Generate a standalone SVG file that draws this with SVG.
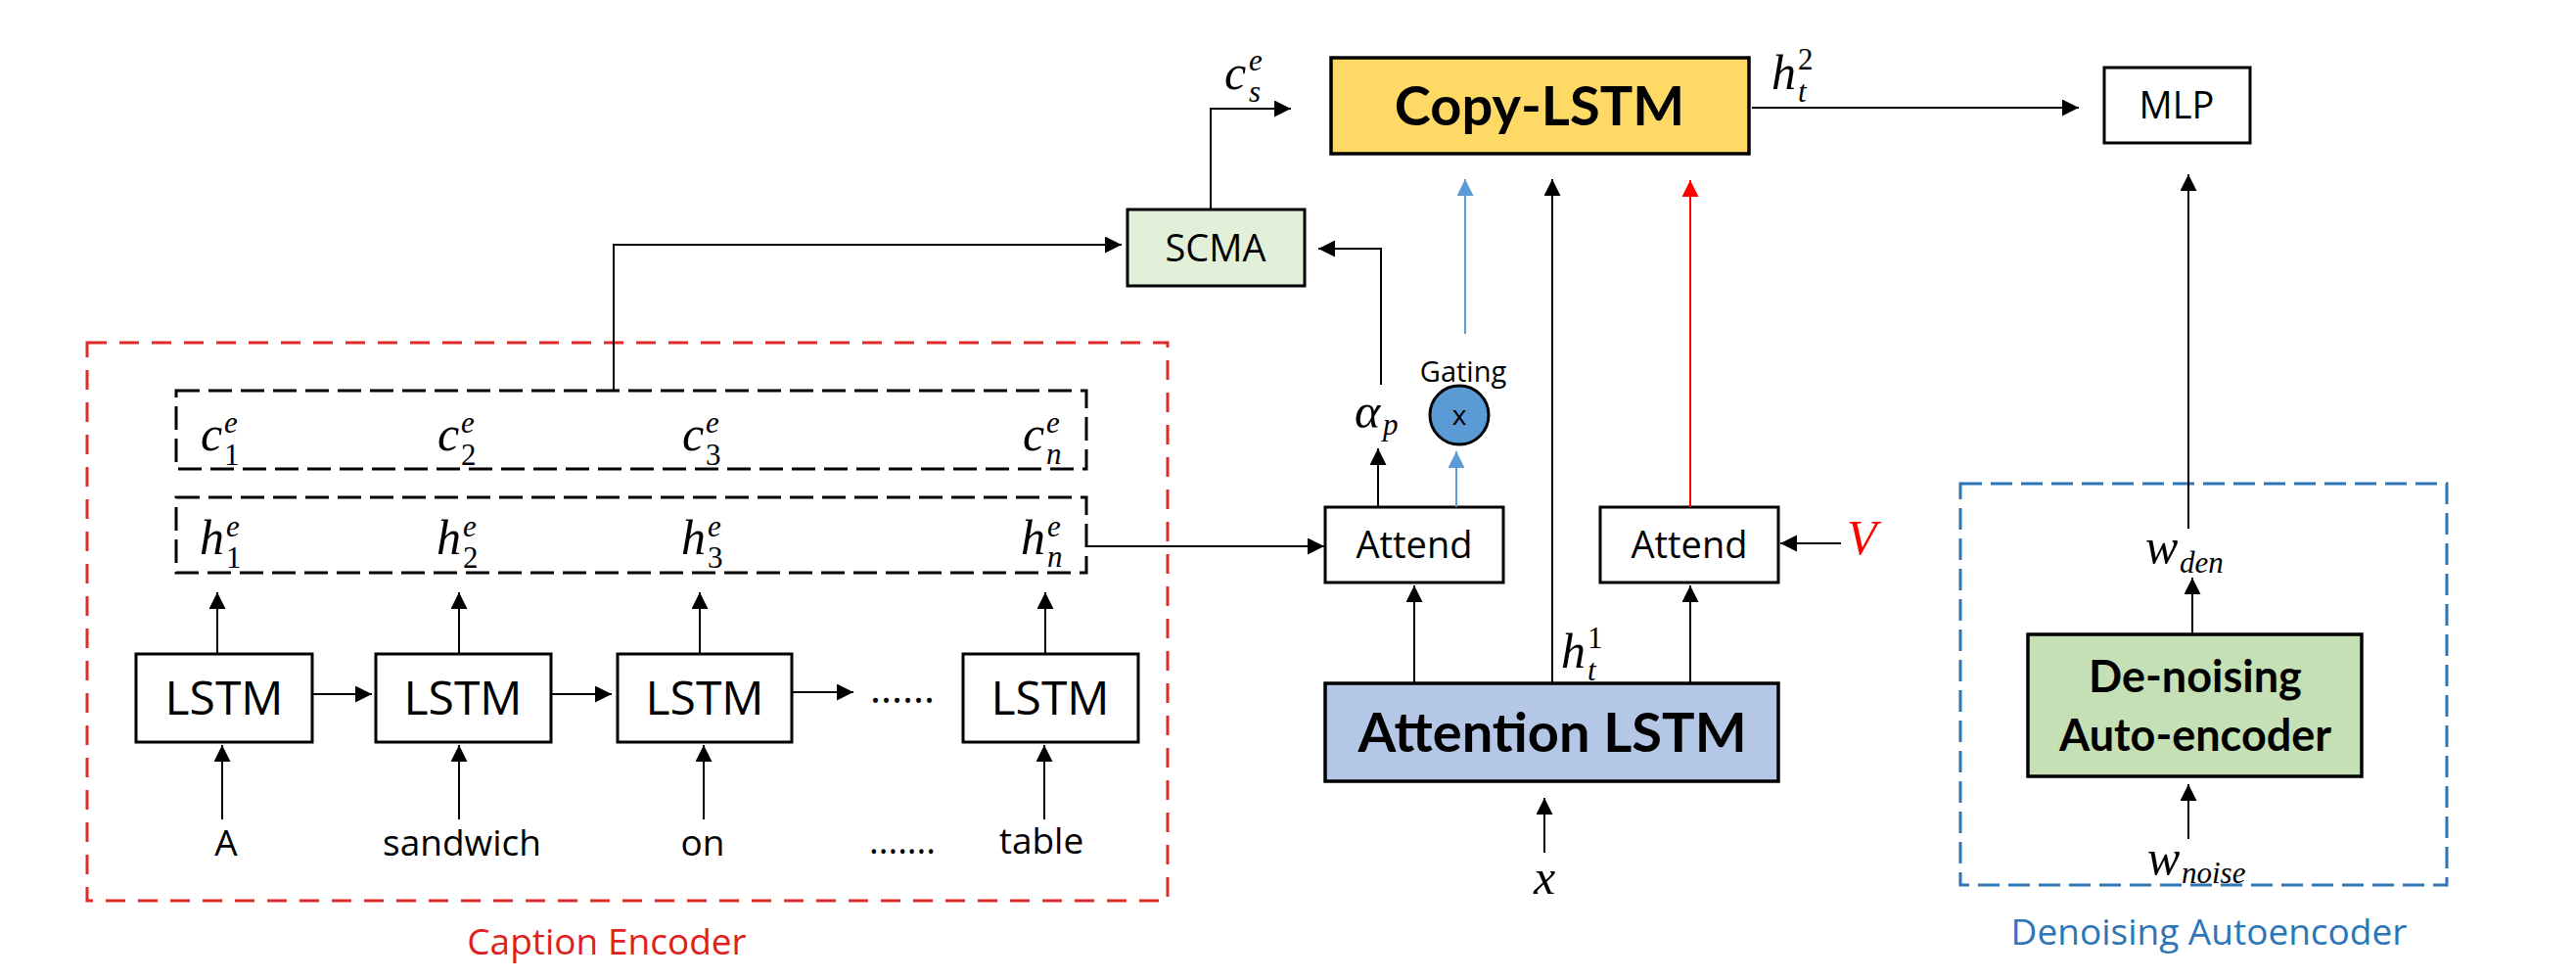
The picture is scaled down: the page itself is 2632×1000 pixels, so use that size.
<svg xmlns="http://www.w3.org/2000/svg" width="2632" height="1000" viewBox="0 0 2632 1000">
<style>
.bg{fill:#fff}
.box{fill:#fff;stroke:#000;stroke-width:3}
.t{font-family:"Open Sans",sans-serif;fill:#000}
.b{font-family:Lato,"Open Sans",sans-serif;font-weight:bold;fill:#000}
.m{font-family:"Liberation Serif",serif;font-style:italic;font-size:50px;fill:#000}
.s{font-size:31px}
.u{font-style:normal}
.ln{stroke:#000;stroke-width:2;fill:none}
.lnb{stroke:#5B9BD5;stroke-width:2;fill:none}
.lnr{stroke:#FF0000;stroke-width:2;fill:none}
.dk{fill:none;stroke:#000;stroke-width:3;stroke-dasharray:24 9}
</style>
<defs>
<marker id="ak" markerUnits="userSpaceOnUse" markerWidth="18" markerHeight="18" refX="17" refY="8.5" orient="auto"><path d="M0,0 L17,8.5 L0,17 Z" fill="#000"/></marker>
<marker id="ab" markerUnits="userSpaceOnUse" markerWidth="18" markerHeight="18" refX="17" refY="8.5" orient="auto"><path d="M0,0 L17,8.5 L0,17 Z" fill="#5B9BD5"/></marker>
<marker id="ar" markerUnits="userSpaceOnUse" markerWidth="18" markerHeight="18" refX="17" refY="8.5" orient="auto"><path d="M0,0 L17,8.5 L0,17 Z" fill="#FF0000"/></marker>
</defs>
<rect class="bg" x="0" y="0" width="2632" height="1000"/>

<g id="caption-encoder">
<rect x="89" y="350" width="1104" height="570" fill="none" stroke="#E02A2A" stroke-width="3" stroke-dasharray="20 13"/>
<text class="t" x="620" y="975" font-size="37" text-anchor="middle" style="fill:#E02020">Caption Encoder</text>
</g>

<g id="c-row">
<rect class="dk" x="180" y="399" width="930" height="80"/>
<text class="m" x="205" y="460">c<tspan class="s" x="229" y="442">e</tspan><tspan class="s u" x="229" y="475">1</tspan></text>
<text class="m" x="447" y="460">c<tspan class="s" x="471" y="442">e</tspan><tspan class="s u" x="471" y="475">2</tspan></text>
<text class="m" x="697" y="460">c<tspan class="s" x="721" y="442">e</tspan><tspan class="s u" x="721" y="475">3</tspan></text>
<text class="m" x="1045" y="460">c<tspan class="s" x="1069" y="442">e</tspan><tspan class="s" x="1069" y="474">n</tspan></text>
</g>

<g id="h-row">
<rect class="dk" x="180" y="508" width="930" height="77"/>
<text class="m" x="204" y="566">h<tspan class="s" x="231" y="548">e</tspan><tspan class="s u" x="231" y="580">1</tspan></text>
<text class="m" x="446" y="566">h<tspan class="s" x="473" y="548">e</tspan><tspan class="s u" x="473" y="580">2</tspan></text>
<text class="m" x="696" y="566">h<tspan class="s" x="723" y="548">e</tspan><tspan class="s u" x="723" y="580">3</tspan></text>
<text class="m" x="1043" y="566">h<tspan class="s" x="1070" y="548">e</tspan><tspan class="s" x="1070" y="579">n</tspan></text>
</g>

<g id="lstm1"><rect class="box" x="139" y="668" width="180" height="90"/><text class="t" x="229" y="730" font-size="48" text-anchor="middle">LSTM</text></g>
<g id="lstm2"><rect class="box" x="384" y="668" width="179" height="90"/><text class="t" x="473" y="730" font-size="48" text-anchor="middle">LSTM</text></g>
<g id="lstm3"><rect class="box" x="631" y="668" width="178" height="90"/><text class="t" x="720" y="730" font-size="48" text-anchor="middle">LSTM</text></g>
<g id="lstm-dots"><text class="t" x="922" y="718" font-size="42" text-anchor="middle">......</text></g>
<g id="lstm4"><rect class="box" x="984" y="668" width="179" height="90"/><text class="t" x="1073" y="730" font-size="48" text-anchor="middle">LSTM</text></g>

<g id="words">
<text class="t" x="231" y="874" font-size="37" text-anchor="middle">A</text>
<text class="t" x="472" y="874" font-size="37" text-anchor="middle">sandwich</text>
<text class="t" x="718" y="874" font-size="37" text-anchor="middle">on</text>
<text class="t" x="922" y="872" font-size="37" text-anchor="middle">.......</text>
<text class="t" x="1064" y="872" font-size="37" text-anchor="middle">table</text>
</g>

<g id="scma"><rect class="box" x="1152" y="214" width="181" height="78" style="fill:#E2F0D9"/><text class="t" x="1242" y="267" font-size="38" text-anchor="middle">SCMA</text></g>

<g id="copy-lstm"><rect x="1360" y="59" width="427" height="98" fill="#FFD966" stroke="#000" stroke-width="3.5"/><text class="b" x="1573" y="128" font-size="56" text-anchor="middle">Copy-LSTM</text></g>

<g id="mlp"><rect class="box" x="2150" y="69" width="149" height="77"/><text class="t" x="2224" y="121" font-size="38" text-anchor="middle">MLP</text></g>

<g id="attend1"><rect class="box" x="1354" y="518" width="182" height="77"/><text class="t" x="1445" y="570" font-size="38" text-anchor="middle">Attend</text></g>
<g id="attend2"><rect class="box" x="1635" y="518" width="182" height="77"/><text class="t" x="1726" y="570" font-size="38" text-anchor="middle">Attend</text></g>

<g id="attention-lstm"><rect x="1354" y="698" width="463" height="100" fill="#B4C7E7" stroke="#000" stroke-width="3.5"/><text class="b" x="1586" y="768" font-size="56" text-anchor="middle">Attention LSTM</text></g>

<g id="gating">
<text class="t" x="1495" y="390" font-size="29" text-anchor="middle">Gating</text>
<circle cx="1491" cy="424" r="30" fill="#5B9BD5" stroke="#000" stroke-width="3"/>
<text class="t" x="1491" y="434" font-size="28" text-anchor="middle">x</text>
</g>

<g id="denoising-autoencoder">
<rect x="2003" y="494" width="497" height="410" fill="none" stroke="#2E75B6" stroke-width="3" stroke-dasharray="22 9"/>
<rect x="2072" y="648" width="341" height="145" fill="#C5E0B4" stroke="#000" stroke-width="3.5"/>
<text class="b" x="2243" y="707" font-size="45" text-anchor="middle">De-noising</text>
<text class="b" x="2243" y="767" font-size="45" text-anchor="middle">Auto-encoder</text>
<text class="t" x="2257" y="965" font-size="37" text-anchor="middle" style="fill:#2E75B6">Denoising Autoencoder</text>
</g>

<g id="labels">
<text class="m" x="1251" y="91">c<tspan class="s" x="1276" y="72">e</tspan><tspan class="s" x="1276" y="104">s</tspan></text>
<text class="m" x="1810" y="91">h<tspan class="s u" x="1837" y="71">2</tspan><tspan class="s" x="1837" y="104">t</tspan></text>
<text class="m" x="1595" y="682">h<tspan class="s u" x="1622" y="662">1</tspan><tspan class="s" x="1622" y="695">t</tspan></text>
<text class="m" x="1384" y="437">α<tspan class="s" x="1413" y="444">p</tspan></text>
<text class="m" x="1887" y="566" style="fill:#FF0000">V</text>
<text class="m" x="1578" y="913" text-anchor="middle">x</text>
<text class="m" x="2192" y="575">w<tspan class="s" x="2227" y="585">den</tspan></text>
<text class="m" x="2194" y="893">w<tspan class="s" x="2229" y="902">noise</tspan></text>
</g>

<g id="connectors">
<polyline class="ln" points="627,399 627,250 1146,250" marker-end="url(#ak)"/>
<polyline class="ln" points="1237,214 1237,111 1319,111" marker-end="url(#ak)"/>
<line class="ln" x1="1408" y1="518" x2="1408" y2="458" marker-end="url(#ak)"/>
<polyline class="ln" points="1411,393 1411,254 1347,254" marker-end="url(#ak)"/>
<line class="lnb" x1="1488" y1="518" x2="1488" y2="461" marker-end="url(#ab)"/>
<line class="lnb" x1="1497" y1="341" x2="1497" y2="183" marker-end="url(#ab)"/>
<line class="ln" x1="1586" y1="698" x2="1586" y2="183" marker-end="url(#ak)"/>
<line class="lnr" x1="1727" y1="518" x2="1727" y2="184" marker-end="url(#ar)"/>
<line class="ln" x1="1881" y1="555" x2="1819" y2="555" marker-end="url(#ak)"/>
<line class="ln" x1="1445" y1="698" x2="1445" y2="598" marker-end="url(#ak)"/>
<line class="ln" x1="1727" y1="698" x2="1727" y2="598" marker-end="url(#ak)"/>
<line class="ln" x1="1578" y1="871" x2="1578" y2="815" marker-end="url(#ak)"/>
<line class="ln" x1="1110" y1="558" x2="1353" y2="558" marker-end="url(#ak)"/>
<line class="ln" x1="1790" y1="110" x2="2124" y2="110" marker-end="url(#ak)"/>
<line class="ln" x1="2236" y1="540" x2="2236" y2="178" marker-end="url(#ak)"/>
<line class="ln" x1="2240" y1="648" x2="2240" y2="590" marker-end="url(#ak)"/>
<line class="ln" x1="2236" y1="857" x2="2236" y2="801" marker-end="url(#ak)"/>
<line class="ln" x1="319" y1="709" x2="380" y2="709" marker-end="url(#ak)"/>
<line class="ln" x1="563" y1="709" x2="625" y2="709" marker-end="url(#ak)"/>
<line class="ln" x1="809" y1="707" x2="872" y2="707" marker-end="url(#ak)"/>
<line class="ln" x1="222" y1="668" x2="222" y2="605" marker-end="url(#ak)"/>
<line class="ln" x1="469" y1="668" x2="469" y2="605" marker-end="url(#ak)"/>
<line class="ln" x1="715" y1="668" x2="715" y2="605" marker-end="url(#ak)"/>
<line class="ln" x1="1068" y1="668" x2="1068" y2="605" marker-end="url(#ak)"/>
<line class="ln" x1="227" y1="837" x2="227" y2="761" marker-end="url(#ak)"/>
<line class="ln" x1="469" y1="837" x2="469" y2="761" marker-end="url(#ak)"/>
<line class="ln" x1="719" y1="837" x2="719" y2="761" marker-end="url(#ak)"/>
<line class="ln" x1="1067" y1="837" x2="1067" y2="761" marker-end="url(#ak)"/>
</g>
</svg>
